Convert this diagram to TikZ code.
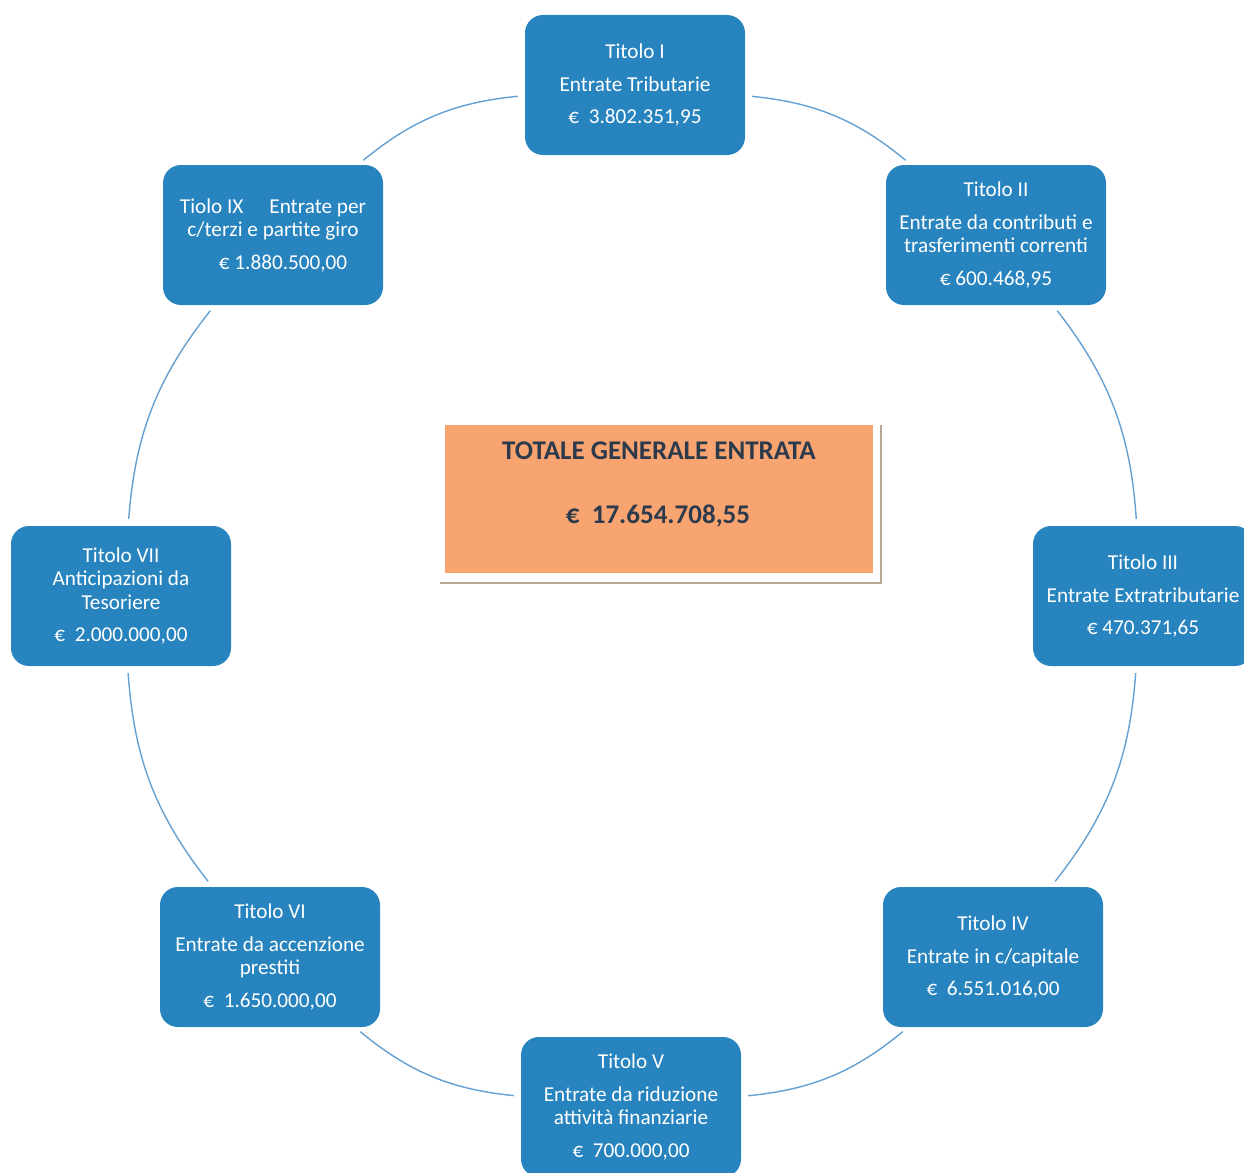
\documentclass[tikz,border=0pt]{standalone}
\usepackage{fontspec}
\setmainfont{Carlito}
\definecolor{boxblue}{RGB}{40,132,190}
\definecolor{arcblue}{RGB}{100,160,210}
\definecolor{totorange}{RGB}{247,164,112}
\definecolor{tottext}{RGB}{45,58,75}
\definecolor{shadowgray}{RGB}{185,170,150}
\tikzset{
  titbox/.style={rounded corners=18pt, fill=boxblue, text=white, minimum width=220pt,
    minimum height=140pt, align=center, inner sep=4pt,
    font=\fontsize{21.2}{23.5}\selectfont},
  ring/.style={draw=arcblue, line width=1.4pt, shorten >=7pt, shorten <=7pt},
  totstyle/.style={text=tottext, font=\fontsize{27}{30}\selectfont\bfseries},
}
\begin{document}
\begin{tikzpicture}[x=1pt,y=1pt]
\clip (0,0) rectangle (1244,-1172);
\fill[white] (0,0) rectangle (1244,-1172);
% total box
\draw[shadowgray, line width=2.5pt] (440,-583) -- (881,-583) -- (881,-425);
\node[fill=totorange, minimum width=428pt, minimum height=148pt, inner sep=0pt] (tot) at (659,-499) {};
\node[totstyle] (totA) at (659,-451) {TOTALE GENERALE ENTRATA};
\node[totstyle] (totB) at (658,-516) {€\ \ 17.654.708,55};
% title boxes
\node[titbox] (t1) at (635,-85) {Titolo I\\[9pt]Entrate Tributarie\\[9pt]€\ \ 3.802.351,95};
\node[titbox] (t2) at (996,-235) {Titolo II\\[9pt]Entrate da contributi e\\trasferimenti correnti\\[9pt]€\ 600.468,95};
\node[titbox] (t3) at (1143,-596) {Titolo III\\[9pt]Entrate Extratributarie\\[9pt]€\ 470.371,65};
\node[titbox] (t4) at (993,-957) {Titolo IV\\[9pt]Entrate in c/capitale\\[9pt]€\ \ 6.551.016,00};
\node[titbox] (t5) at (631,-1107) {Titolo V\\[9pt]Entrate da riduzione\\attività finanziarie\\[9pt]€\ \ 700.000,00};
\node[titbox] (t6) at (270,-957) {Titolo VI\\[9pt]Entrate da accenzione\\prestiti\\[9pt]€\ \ 1.650.000,00};
\node[titbox] (t7) at (121,-596) {Titolo VII\\Anticipazioni da\\Tesoriere\\[9pt]€\ \ 2.000.000,00};
\node[titbox] (t9) at (273,-235) {Tiolo IX\quad\ Entrate per\\c/terzi e partite giro\\[9pt]\hspace*{20pt}€ 1.880.500,00};
% ring connectors
\draw[ring] (t1) to[bend left=17] (t2);
\draw[ring] (t2) to[bend left=17] (t3);
\draw[ring] (t3) to[bend left=17] (t4);
\draw[ring] (t4) to[bend left=17] (t5);
\draw[ring] (t5) to[bend left=17] (t6);
\draw[ring] (t6) to[bend left=17] (t7);
\draw[ring] (t7) to[bend left=17] (t9);
\draw[ring] (t9) to[bend left=17] (t1);
\end{tikzpicture}
\end{document}
